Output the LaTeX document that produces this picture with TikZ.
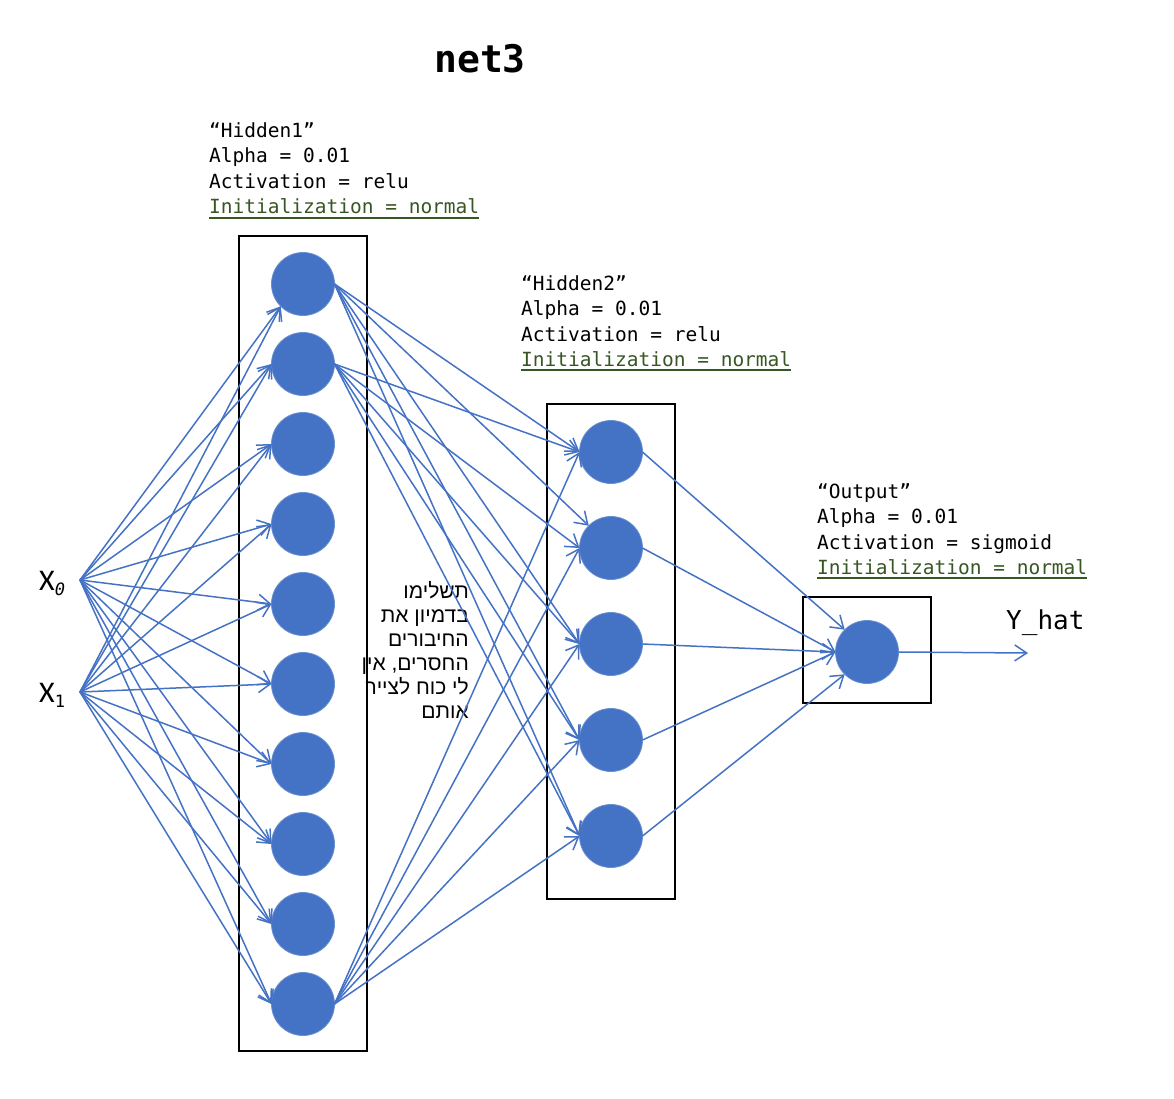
\documentclass[tikz,border=0pt]{standalone}
\usepackage{fontspec}
\setmainfont{Liberation Sans}
\newfontfamily\monof{DejaVu Sans Mono}
\newfontfamily\hebf[Script=Hebrew]{Liberation Sans}
\newfontfamily\calf{Carlito}
\TeXXeTstate=1
\usetikzlibrary{arrows.meta}
\definecolor{nblue}{HTML}{4472C4}
\definecolor{igreen}{HTML}{375623}
\begin{document}
\begin{tikzpicture}[x=1pt,y=-1pt,
  neuron/.style={circle,fill=nblue,draw=nblue!80!white,line width=0.8pt,minimum size=63pt,inner sep=0pt,outer sep=0pt},
  layerbox/.style={draw=black,line width=1.9pt},
  conn/.style={draw=nblue,line width=1.5pt,-{Straight Barb[length=12pt,width=16pt]}},
  lbl/.style={font=\monof\fontsize{19.5}{25}\selectfont,anchor=base west,inner sep=0pt},
  ulbl/.style={lbl,text=igreen},
  uline/.style={draw=igreen,line width=1.5pt},
  heb/.style={font=\hebf\fontsize{21}{24}\selectfont,anchor=base east,inner sep=0pt},
  xlab/.style={font=\calf\fontsize{30}{32}\selectfont,anchor=base west,inner sep=0pt}]
\useasboundingbox (0,0) rectangle (1174,1099);

% title
\node[font=\monof\bfseries\fontsize{38}{40}\selectfont,anchor=base,inner sep=0pt] (title) at (480,73) {net3};

% layer boxes
\draw[layerbox] (239,236) rectangle (367,1051);
\draw[layerbox] (547,404) rectangle (675,899);
\draw[layerbox] (803,597) rectangle (931,703);

% neurons
\foreach \i in {1,...,10} {
  \node[neuron] (h1-\i) at (303,{284+80*(\i-1)}) {};
}
\foreach \j in {1,...,5} {
  \node[neuron] (h2-\j) at (611,{452+96*(\j-1)}) {};
}
\node[neuron] (out) at (867,652) {};

% layer labels
\node[lbl] (h1a) at (209,138) {“Hidden1”};
\node[lbl] (h1b) at (209,163) {Alpha = 0.01};
\node[lbl] (h1c) at (209,189) {Activation = relu};
\node[ulbl] (h1d) at (209,214) {Initialization = normal};
\draw[uline] ([yshift=-4pt]h1d.base west) -- ([yshift=-4pt]h1d.base east);

\node[lbl] (h2a) at (521,290) {“Hidden2”};
\node[lbl] (h2b) at (521,315) {Alpha = 0.01};
\node[lbl] (h2c) at (521,341) {Activation = relu};
\node[ulbl] (h2d) at (521,366) {Initialization = normal};
\draw[uline] ([yshift=-4pt]h2d.base west) -- ([yshift=-4pt]h2d.base east);

\node[lbl] (oa) at (817,498) {“Output”};
\node[lbl] (ob) at (817,523) {Alpha = 0.01};
\node[lbl] (oc) at (817,549) {Activation = sigmoid};
\node[ulbl] (od) at (817,574) {Initialization = normal};
\draw[uline] ([yshift=-4pt]od.base west) -- ([yshift=-4pt]od.base east);

% inputs
\node[xlab] (x0lab) at (39,590) {X\raisebox{-5pt}{\monof\itshape\fontsize{17}{17}\selectfont 0}};
\node[xlab] (x1lab) at (39,702) {X\raisebox{-5pt}{\monof\fontsize{17}{17}\selectfont 1}};
\coordinate (x0) at (80,580);
\coordinate (x1) at (80,692);

% output label
\node[font=\monof\fontsize{26}{28}\selectfont,anchor=base west,inner sep=0pt] (yhat) at (1006,629) {Y\_hat};
\coordinate (yend) at (1028,653);

% hebrew note
\node[heb] (t1) at (469,598) {\beginR תשלימו\endR};
\node[heb] (t2) at (469,622) {\beginR בדמיון את\endR};
\node[heb] (t3) at (469,646) {\beginR החיבורים\endR};
\node[heb] (t4) at (469,670) {\beginR החסרים, אין\endR};
\node[heb] (t5) at (469,694) {\beginR לי כוח לצייר\endR};
\node[heb] (t6) at (469,718) {\beginR אותם\endR};

% input -> hidden1
\draw[conn] (x0) -- (h1-1.south west);
\draw[conn] (x1) -- (h1-1.south west);
\foreach \i in {2,...,10} {
  \draw[conn] (x0) -- (h1-\i.west);
  \draw[conn] (x1) -- (h1-\i.west);
}

% hidden1 -> hidden2
\draw[conn] (h1-1.east) -- (h2-1.west);
\draw[conn] (h1-1.east) -- (h2-2.north west);
\foreach \j in {3,4,5} {
  \draw[conn] (h1-1.east) -- (h2-\j.west);
}
\foreach \j in {1,...,5} {
  \draw[conn] (h1-2.east) -- (h2-\j.west);
  \draw[conn] (h1-10.east) -- (h2-\j.west);
}

% hidden2 -> output
\draw[conn] (h2-1.east) -- (out.north west);
\draw[conn] (h2-2.east) -- (out.west);
\draw[conn] (h2-3.east) -- (out.west);
\draw[conn] (h2-4.east) -- (out.west);
\draw[conn] (h2-5.east) -- (out.south west);

% output -> y_hat
\draw[conn] (out.east) -- (yend);
\end{tikzpicture}
\end{document}
